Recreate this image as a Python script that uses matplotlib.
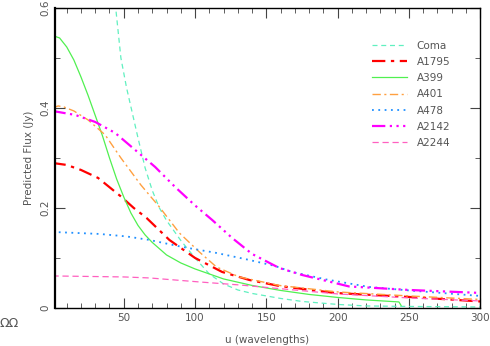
import matplotlib
matplotlib.use("Agg")
import matplotlib.pyplot as plt
import numpy as np
from matplotlib.ticker import MultipleLocator

# Data
coma_u = [44, 48, 52, 56, 60, 65, 70, 75, 80, 90, 100, 110, 120, 130, 140, 150, 160, 175, 200, 220, 250, 300]
coma_f = [0.61, 0.50, 0.44, 0.39, 0.34, 0.28, 0.235, 0.20, 0.175, 0.135, 0.10, 0.068, 0.048, 0.036, 0.029, 0.024, 0.019, 0.013, 0.007, 0.004, 0.003, 0.002]

a1795_u = [0, 10, 20, 32, 48, 57, 66, 82, 100, 119, 138, 159, 198, 250, 300]
a1795_f = [0.290, 0.286, 0.276, 0.260, 0.223, 0.200, 0.180, 0.136, 0.100, 0.072, 0.056, 0.044, 0.030, 0.022, 0.013]

a399_u = [0, 5, 10, 15, 20, 25, 30, 35, 40, 45, 50, 55, 60, 65, 70, 80, 90, 100, 120, 140, 160, 180, 200, 220, 243, 244.5]
a399_f = [0.545, 0.540, 0.522, 0.496, 0.462, 0.425, 0.385, 0.345, 0.300, 0.258, 0.222, 0.190, 0.165, 0.146, 0.131, 0.106, 0.090, 0.078, 0.058, 0.045, 0.035, 0.027, 0.021, 0.016, 0.012, 0.005]

a401_u = [0, 4, 8, 15, 25, 37, 48, 62, 75, 89, 103, 115, 131, 159, 200, 250, 300]
a401_f = [0.400, 0.404, 0.402, 0.394, 0.376, 0.346, 0.300, 0.246, 0.202, 0.150, 0.112, 0.082, 0.062, 0.045, 0.032, 0.024, 0.017]

a478_u = [0, 33, 52, 68, 91, 115, 138, 156, 168, 192, 222, 250, 300]
a478_f = [0.152, 0.148, 0.143, 0.136, 0.122, 0.110, 0.096, 0.084, 0.072, 0.057, 0.042, 0.035, 0.024]

a2142_u = [0, 16, 30, 44, 58, 72, 86, 100, 112, 126, 140, 159, 175, 208, 250, 300]
a2142_f = [0.394, 0.386, 0.372, 0.350, 0.316, 0.282, 0.242, 0.205, 0.176, 0.140, 0.108, 0.080, 0.066, 0.043, 0.036, 0.030]

a2244_u = [0, 50, 68, 103, 131, 154, 200, 250, 300]
a2244_f = [0.064, 0.062, 0.060, 0.052, 0.046, 0.040, 0.028, 0.020, 0.014]

labels = ["Coma", "A1795", "A399", "A401", "A478", "A2142", "A2244"]

fig = plt.figure(figsize=(4.9, 3.46), dpi=100)
ax = fig.add_axes([0.112, 0.110, 0.868, 0.867])

txt = "#555555"
ax.plot(coma_u, coma_f, color="#60f0c0", lw=0.9, dashes=(4, 3), label=labels[0])
ax.plot(a1795_u, a1795_f, color="#ff0000", lw=1.6, dashes=(6, 2.5, 1.5, 2.5), label=labels[1])
ax.plot(a399_u, a399_f, color="#50f050", lw=0.9, label=labels[2])
ax.plot(a401_u, a401_f, color="#ffa040", lw=1.0, dashes=(6, 2.5, 1.5, 2.5), label=labels[3])
ax.plot(a478_u, a478_f, color="#2090ff", lw=1.3, dashes=(1, 2.5), label=labels[4])
ax.plot(a2142_u, a2142_f, color="#ff00ff", lw=1.6, dashes=(6, 2, 1, 2, 1, 2, 1, 2), label=labels[5])
ax.plot(a2244_u, a2244_f, color="#ff60c0", lw=0.9, dashes=(5, 3), label=labels[6])

ax.set_xlim(1.7, 300)
ax.set_ylim(0, 0.6)
ax.xaxis.set_major_locator(MultipleLocator(50))
ax.xaxis.set_minor_locator(MultipleLocator(10))
ax.yaxis.set_major_locator(MultipleLocator(0.2))
ax.yaxis.set_minor_locator(MultipleLocator(0.1))
ax.tick_params(which="both", direction="in", top=True, right=True, colors="#444444", labelcolor=txt, labelsize=7.5)
ax.tick_params(which="major", length=7)
ax.tick_params(which="minor", length=3.5)
ax.set_yticks([0, 0.2, 0.4, 0.6])
ax.set_yticklabels(["0", "0.2", "0.4", "0.6"], rotation=90, va="center")
for s in ax.spines.values():
    s.set_color("black")
    s.set_linewidth(1.0)
ax.spines["left"].set_linewidth(1.6)

ax.set_xlabel("u (wavelengths)", fontsize=7.5, color=txt, labelpad=9)
ax.set_ylabel("Predicted Flux (Jy)", fontsize=7.5, color=txt, labelpad=4)

leg = ax.legend(loc="upper left", bbox_to_anchor=(0.735, 0.905), frameon=False, fontsize=7.5,
                handlelength=3.4, labelspacing=0.6, handletextpad=0.9, borderaxespad=0)
for t in leg.get_texts():
    t.set_color(txt)

fig.text(0.0, 0.055, "ΩΩ", fontsize=9, color=txt)

fig.savefig("out.png", dpi=100)
